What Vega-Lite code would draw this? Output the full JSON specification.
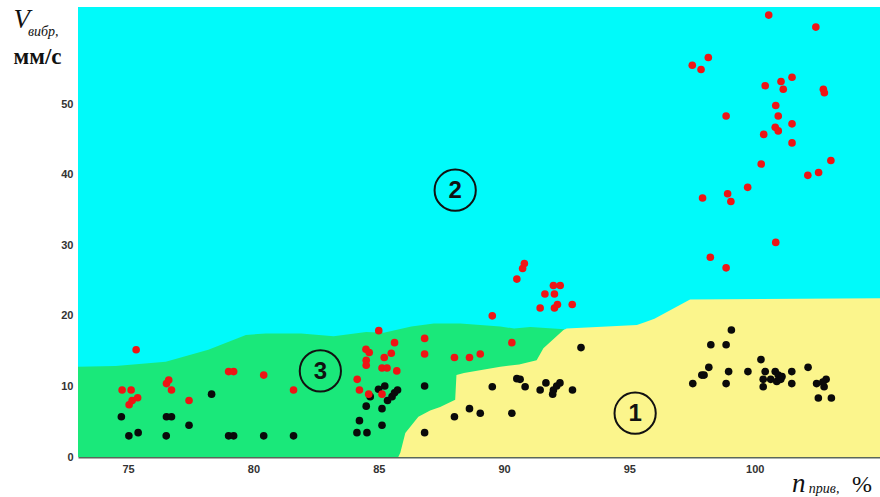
{
  "$schema": "https://vega.github.io/schema/vega-lite/v6.json",
  "width": 802,
  "height": 450,
  "autosize": {"type": "none"},
  "padding": {"left": 78, "top": 7, "right": 0, "bottom": 40},
  "background": "white",
  "config": {"view": {"stroke": null, "fill": "#00FAFA"}},
  "datasets": {
    "green": [
      {"n": 73, "v": 12.8}, {"n": 74.5, "v": 12.9}, {"n": 76.5, "v": 13.5}, {"n": 78.2, "v": 15.2},
      {"n": 79.7, "v": 17.3}, {"n": 80.5, "v": 17.5}, {"n": 81.9, "v": 17.5}, {"n": 83.2, "v": 17.1},
      {"n": 84.5, "v": 17.7}, {"n": 85.2, "v": 17.6}, {"n": 86.3, "v": 18.5}, {"n": 87.2, "v": 18.9},
      {"n": 88.25, "v": 18.9}, {"n": 89.85, "v": 18.5}, {"n": 90.4, "v": 18.2}, {"n": 91.05, "v": 18.4},
      {"n": 92.4, "v": 18.1}
    ],
    "yellow": [
      {"n": 85.78, "v": 0}, {"n": 85.86, "v": 0.6}, {"n": 86.06, "v": 3.4}, {"n": 86.58, "v": 5.7},
      {"n": 87.05, "v": 6.6}, {"n": 87.45, "v": 7.1}, {"n": 88.05, "v": 8.1}, {"n": 88.1, "v": 11.6},
      {"n": 88.4, "v": 11.9}, {"n": 89.85, "v": 12.8}, {"n": 90.6, "v": 13.1}, {"n": 91.3, "v": 13.7},
      {"n": 91.57, "v": 15.4}, {"n": 92.37, "v": 18.0}, {"n": 92.5, "v": 18.2}, {"n": 95.3, "v": 18.7},
      {"n": 95.7, "v": 19.2}, {"n": 96.0, "v": 19.6}, {"n": 97.42, "v": 22.3}, {"n": 105, "v": 22.5}
    ],
    "points": [
      {"n": 74.73, "v": 5.7, "g": "low"}, {"n": 75.03, "v": 3.0, "g": "low"}, {"n": 75.4, "v": 3.45, "g": "low"},
      {"n": 76.53, "v": 5.7, "g": "low"}, {"n": 76.73, "v": 5.7, "g": "low"}, {"n": 76.52, "v": 3.0, "g": "low"},
      {"n": 77.43, "v": 4.5, "g": "low"}, {"n": 78.33, "v": 8.9, "g": "low"}, {"n": 79.01, "v": 3.0, "g": "low"},
      {"n": 79.21, "v": 3.0, "g": "low"}, {"n": 80.41, "v": 3.0, "g": "low"}, {"n": 81.6, "v": 3.0, "g": "low"},
      {"n": 84.13, "v": 3.45, "g": "low"}, {"n": 84.53, "v": 3.45, "g": "low"}, {"n": 84.23, "v": 5.15, "g": "low"},
      {"n": 84.5, "v": 7.2, "g": "low"}, {"n": 84.66, "v": 8.55, "g": "low"}, {"n": 84.99, "v": 9.6, "g": "low"},
      {"n": 85.24, "v": 10.05, "g": "low"}, {"n": 85.13, "v": 6.85, "g": "low"}, {"n": 85.35, "v": 8.0, "g": "low"},
      {"n": 85.53, "v": 8.55, "g": "low"}, {"n": 85.63, "v": 9.1, "g": "low"}, {"n": 85.75, "v": 9.5, "g": "low"},
      {"n": 85.13, "v": 4.5, "g": "low"}, {"n": 86.83, "v": 10.05, "g": "low"}, {"n": 86.83, "v": 3.45, "g": "low"},
      {"n": 88.02, "v": 5.7, "g": "low"}, {"n": 88.62, "v": 6.85, "g": "low"}, {"n": 89.05, "v": 6.2, "g": "low"},
      {"n": 90.31, "v": 6.2, "g": "low"}, {"n": 89.53, "v": 9.96, "g": "low"}, {"n": 90.51, "v": 11.1, "g": "low"},
      {"n": 90.64, "v": 11.0, "g": "low"}, {"n": 90.84, "v": 9.96, "g": "low"}, {"n": 91.44, "v": 9.49, "g": "low"},
      {"n": 91.67, "v": 10.5, "g": "low"}, {"n": 91.97, "v": 9.49, "g": "low"}, {"n": 92.1, "v": 10.05, "g": "low"},
      {"n": 92.23, "v": 10.5, "g": "low"}, {"n": 91.94, "v": 8.9, "g": "low"}, {"n": 92.73, "v": 9.49, "g": "low"},
      {"n": 93.07, "v": 15.5, "g": "low"},
      {"n": 97.53, "v": 10.4, "g": "low"}, {"n": 97.89, "v": 11.6, "g": "low"}, {"n": 97.98, "v": 11.6, "g": "low"},
      {"n": 98.17, "v": 12.7, "g": "low"}, {"n": 98.25, "v": 15.9, "g": "low"}, {"n": 98.86, "v": 15.9, "g": "low"},
      {"n": 99.07, "v": 18.0, "g": "low"}, {"n": 98.96, "v": 12.1, "g": "low"}, {"n": 98.86, "v": 10.4, "g": "low"},
      {"n": 99.73, "v": 12.1, "g": "low"}, {"n": 100.25, "v": 13.8, "g": "low"}, {"n": 100.42, "v": 12.1, "g": "low"},
      {"n": 100.34, "v": 11.0, "g": "low"}, {"n": 100.34, "v": 9.96, "g": "low"}, {"n": 100.64, "v": 11.0, "g": "low"},
      {"n": 100.82, "v": 12.1, "g": "low"}, {"n": 100.94, "v": 11.6, "g": "low"}, {"n": 100.88, "v": 10.7, "g": "low"},
      {"n": 101.04, "v": 11.0, "g": "low"}, {"n": 101.09, "v": 11.4, "g": "low"}, {"n": 101.48, "v": 12.1, "g": "low"},
      {"n": 101.48, "v": 10.4, "g": "low"}, {"n": 102.13, "v": 12.7, "g": "low"}, {"n": 102.47, "v": 10.4, "g": "low"},
      {"n": 102.77, "v": 9.96, "g": "low"}, {"n": 102.85, "v": 11.0, "g": "low"}, {"n": 102.72, "v": 10.6, "g": "low"},
      {"n": 102.54, "v": 8.36, "g": "low"}, {"n": 103.06, "v": 8.36, "g": "low"},
      {"n": 74.76, "v": 9.5, "g": "high"}, {"n": 75.12, "v": 9.5, "g": "high"}, {"n": 75.04, "v": 7.4, "g": "high"},
      {"n": 75.16, "v": 8.0, "g": "high"}, {"n": 75.38, "v": 8.4, "g": "high"}, {"n": 75.32, "v": 15.2, "g": "high"},
      {"n": 76.53, "v": 10.4, "g": "high"}, {"n": 76.62, "v": 10.9, "g": "high"}, {"n": 76.73, "v": 9.5, "g": "high"},
      {"n": 77.43, "v": 8.0, "g": "high"}, {"n": 79.01, "v": 12.1, "g": "high"}, {"n": 79.21, "v": 12.1, "g": "high"},
      {"n": 80.41, "v": 11.6, "g": "high"}, {"n": 81.6, "v": 9.5, "g": "high"},
      {"n": 84.14, "v": 11.0, "g": "high"}, {"n": 84.23, "v": 9.5, "g": "high"}, {"n": 84.6, "v": 8.9, "g": "high"},
      {"n": 85.13, "v": 8.9, "g": "high"}, {"n": 84.49, "v": 15.25, "g": "high"}, {"n": 84.62, "v": 14.8, "g": "high"},
      {"n": 84.5, "v": 13.7, "g": "high"}, {"n": 84.5, "v": 13.0, "g": "high"}, {"n": 85.0, "v": 17.9, "g": "high"},
      {"n": 85.22, "v": 14.1, "g": "high"}, {"n": 85.5, "v": 14.7, "g": "high"}, {"n": 85.63, "v": 16.2, "g": "high"},
      {"n": 85.13, "v": 12.6, "g": "high"}, {"n": 85.33, "v": 12.6, "g": "high"}, {"n": 85.72, "v": 12.2, "g": "high"},
      {"n": 86.83, "v": 16.8, "g": "high"}, {"n": 86.83, "v": 14.6, "g": "high"},
      {"n": 88.02, "v": 14.1, "g": "high"}, {"n": 88.62, "v": 14.1, "g": "high"}, {"n": 89.05, "v": 14.6, "g": "high"},
      {"n": 89.53, "v": 20.0, "g": "high"}, {"n": 90.31, "v": 16.2, "g": "high"},
      {"n": 90.51, "v": 25.2, "g": "high"}, {"n": 90.74, "v": 26.7, "g": "high"}, {"n": 90.81, "v": 27.4, "g": "high"},
      {"n": 91.97, "v": 24.3, "g": "high"}, {"n": 92.24, "v": 24.3, "g": "high"}, {"n": 91.63, "v": 23.1, "g": "high"},
      {"n": 92.01, "v": 23.1, "g": "high"}, {"n": 91.44, "v": 21.1, "g": "high"}, {"n": 92.01, "v": 21.1, "g": "high"},
      {"n": 92.13, "v": 21.6, "g": "high"}, {"n": 92.72, "v": 21.6, "g": "high"},
      {"n": 100.56, "v": 62.6, "g": "high"}, {"n": 102.44, "v": 60.9, "g": "high"}, {"n": 98.15, "v": 56.6, "g": "high"},
      {"n": 97.51, "v": 55.5, "g": "high"}, {"n": 97.86, "v": 54.9, "g": "high"}, {"n": 100.42, "v": 52.6, "g": "high"},
      {"n": 101.05, "v": 53.2, "g": "high"}, {"n": 101.14, "v": 52.1, "g": "high"}, {"n": 101.49, "v": 53.8, "g": "high"},
      {"n": 102.74, "v": 52.1, "g": "high"}, {"n": 102.78, "v": 51.6, "g": "high"}, {"n": 100.84, "v": 49.8, "g": "high"},
      {"n": 98.86, "v": 48.3, "g": "high"}, {"n": 100.94, "v": 48.3, "g": "high"}, {"n": 100.82, "v": 46.7, "g": "high"},
      {"n": 100.94, "v": 46.2, "g": "high"}, {"n": 100.36, "v": 45.7, "g": "high"}, {"n": 101.49, "v": 47.2, "g": "high"},
      {"n": 101.49, "v": 44.5, "g": "high"}, {"n": 100.26, "v": 41.5, "g": "high"}, {"n": 103.04, "v": 42.0, "g": "high"},
      {"n": 102.55, "v": 40.3, "g": "high"}, {"n": 102.12, "v": 39.9, "g": "high"}, {"n": 99.72, "v": 38.2, "g": "high"},
      {"n": 98.92, "v": 37.3, "g": "high"}, {"n": 99.05, "v": 36.2, "g": "high"}, {"n": 97.92, "v": 36.7, "g": "high"},
      {"n": 100.84, "v": 30.4, "g": "high"}, {"n": 98.23, "v": 28.3, "g": "high"}, {"n": 98.86, "v": 26.8, "g": "high"}
    ],
    "zones": [
      {"n": 95.23, "v": 6.2, "label": "1"},
      {"n": 88.05, "v": 37.8, "label": "2"},
      {"n": 82.67, "v": 12.2, "label": "3"}
    ],
    "bigItalic": [
      {"n": 70.43, "v": 60.76, "label": "V"},
      {"n": 101.49, "v": -4.9, "label": "n"}
    ],
    "subItalic": [
      {"n": 71.0, "v": 59.7, "label": "вибр,"},
      {"n": 102.16, "v": -5.15, "label": "прив,"}
    ],
    "unitY": [
      {"n": 70.43, "v": 55.67, "label": "мм/с"}
    ],
    "unitX": [
      {"n": 103.88, "v": -4.9, "label": "%"}
    ]
  },
  "encoding": {
    "x": {
      "field": "n", "type": "quantitative",
      "scale": {"domain": [73, 105], "nice": false, "zero": false},
      "axis": {
        "title": null, "values": [75, 80, 85, 90, 95, 100], "ticks": false, "grid": false,
        "labelFont": "Liberation Sans", "labelFontWeight": "bold", "labelFontSize": 11,
        "labelColor": "#333333", "labelPadding": 6,
        "domainColor": "#5a675a", "domainWidth": 2
      }
    },
    "y": {
      "field": "v", "type": "quantitative",
      "scale": {"domain": [0, 63.75], "nice": false, "zero": false},
      "axis": {
        "title": null, "values": [0, 10, 20, 30, 40, 50], "ticks": false, "grid": false, "domain": false,
        "labelFont": "Liberation Sans", "labelFontWeight": "bold", "labelFontSize": 11,
        "labelColor": "#333333", "labelPadding": 5
      }
    }
  },
  "layer": [
    {"data": {"name": "green"}, "mark": {"type": "area", "color": "#1AE87A", "opacity": 1, "interpolate": "linear"}},
    {"data": {"name": "yellow"}, "mark": {"type": "area", "color": "#FBF58C", "opacity": 1, "interpolate": "linear"}},
    {
      "data": {"name": "points"},
      "mark": {"type": "point", "shape": "circle", "filled": true, "size": 58, "opacity": 1},
      "encoding": {
        "color": {"field": "g", "type": "nominal", "scale": {"domain": ["low", "high"], "range": ["#0a0a0a", "#EE1515"]}, "legend": null},
        "order": {"field": "g", "sort": "descending"}
      }
    },
    {
      "data": {"name": "zones"},
      "mark": {"type": "point", "shape": "circle", "filled": false, "size": 1700, "stroke": "#111111", "strokeWidth": 2, "opacity": 1}
    },
    {
      "data": {"name": "zones"},
      "mark": {"type": "text", "font": "Liberation Sans", "fontWeight": "bold", "fontSize": 24, "color": "#111111", "align": "center", "baseline": "middle", "dy": 1},
      "encoding": {"text": {"field": "label"}}
    },
    {
      "data": {"name": "bigItalic"},
      "mark": {"type": "text", "font": "Liberation Serif", "fontStyle": "italic", "fontSize": 27, "color": "#111111", "align": "left", "baseline": "alphabetic"},
      "encoding": {"text": {"field": "label"}}
    },
    {
      "data": {"name": "subItalic"},
      "mark": {"type": "text", "font": "Liberation Serif", "fontStyle": "italic", "fontSize": 14, "color": "#111111", "align": "left", "baseline": "alphabetic"},
      "encoding": {"text": {"field": "label"}}
    },
    {
      "data": {"name": "unitY"},
      "mark": {"type": "text", "font": "Liberation Serif", "fontWeight": "bold", "fontSize": 23, "color": "#111111", "align": "left", "baseline": "alphabetic"},
      "encoding": {"text": {"field": "label"}}
    },
    {
      "data": {"name": "unitX"},
      "mark": {"type": "text", "font": "Liberation Serif", "fontSize": 24, "color": "#111111", "align": "left", "baseline": "alphabetic"},
      "encoding": {"text": {"field": "label"}}
    }
  ]
}
